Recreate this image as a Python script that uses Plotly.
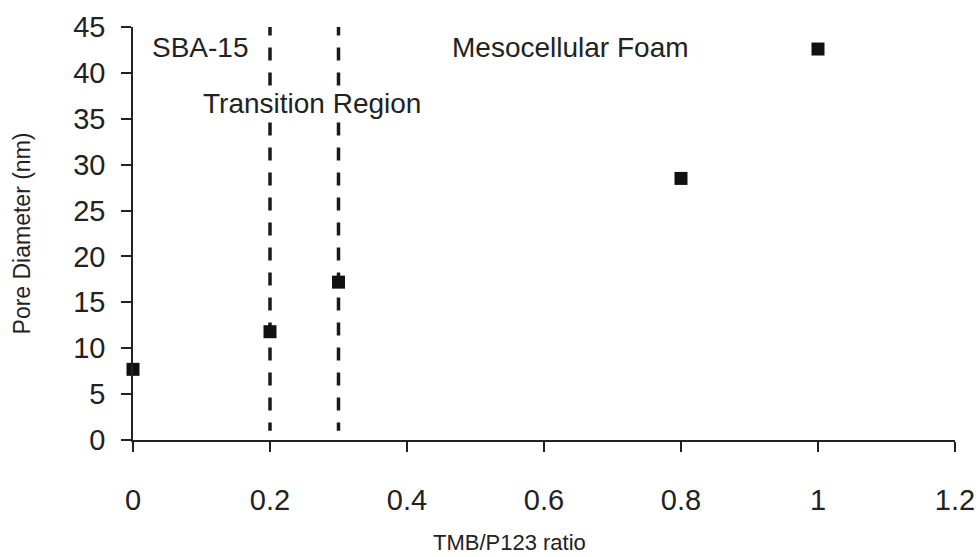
import plotly.graph_objects as go

ratio = [0, 0.2, 0.3, 0.8, 1.0]
pore_diameter = [7.7, 11.8, 17.2, 28.5, 42.6]
boundaries = [0.2, 0.3]
boundary_y = [45.5, 1.0]
x_ticks = [0, 0.2, 0.4, 0.6, 0.8, 1.0, 1.2]
x_tick_text = ["0", "0.2", "0.4", "0.6", "0.8", "1", "1.2"]
y_ticks = [0, 5, 10, 15, 20, 25, 30, 35, 40, 45]
regions = ["SBA-15", "Transition Region", "Mesocellular Foam"]
region_x = [0.098, 0.262, 0.638]
region_y = [42.8, 36.7, 42.8]

FONT = "Liberation Sans, Arial, sans-serif"

fig = go.Figure()
for b in boundaries:
    fig.add_trace(go.Scatter(
        x=[b, b], y=boundary_y, mode="lines",
        line=dict(color="#1a1a1a", width=3.5, dash="13px,12px"),
        showlegend=False, hoverinfo="skip", cliponaxis=False))
fig.add_trace(go.Scatter(
    x=ratio, y=pore_diameter, mode="markers",
    marker=dict(symbol="square", size=13, color="#111111"),
    showlegend=False, cliponaxis=False))

for t, xx, yy in zip(regions, region_x, region_y):
    fig.add_annotation(x=xx, y=yy, text=t, showarrow=False, bgcolor="white",
                       borderpad=0,
                       font=dict(family=FONT, size=28, color="#222222"))

# x-axis title, placed left of centre as in the original
fig.add_annotation(xref="paper", yref="paper", x=0.4586, y=-0.249,
                   xanchor="center", yanchor="middle",
                   text="TMB/P123 ratio", showarrow=False,
                   font=dict(family=FONT, size=22, color="#222222"))

fig.update_layout(
    width=980, height=557,
    margin=dict(l=133, r=25, t=27, b=117),
    paper_bgcolor="white", plot_bgcolor="white",
    font=dict(family=FONT, color="#222222"),
)
fig.update_xaxes(
    range=[0, 1.2], tickvals=x_ticks, ticktext=x_tick_text, automargin=False,
    showgrid=False, zeroline=False, showline=True, linecolor="#222222", linewidth=1.5,
    ticks="outside", ticklen=10, tickwidth=1.5, tickcolor="#222222",
    tickfont=dict(size=29, family=FONT, color="#222222"),
    ticklabelstandoff=23,
)
fig.update_yaxes(
    range=[0, 45], tickvals=y_ticks, automargin=False,
    showgrid=False, zeroline=False, showline=True, linecolor="#222222", linewidth=1.5,
    ticks="outside", ticklen=10, tickwidth=1.5, tickcolor="#222222",
    tickfont=dict(size=29, family=FONT, color="#222222"),
    ticklabelstandoff=10,
    title=dict(text="Pore Diameter (nm)", font=dict(size=23, family=FONT, color="#222222"), standoff=36),
)

fig.write_html("out.html")
